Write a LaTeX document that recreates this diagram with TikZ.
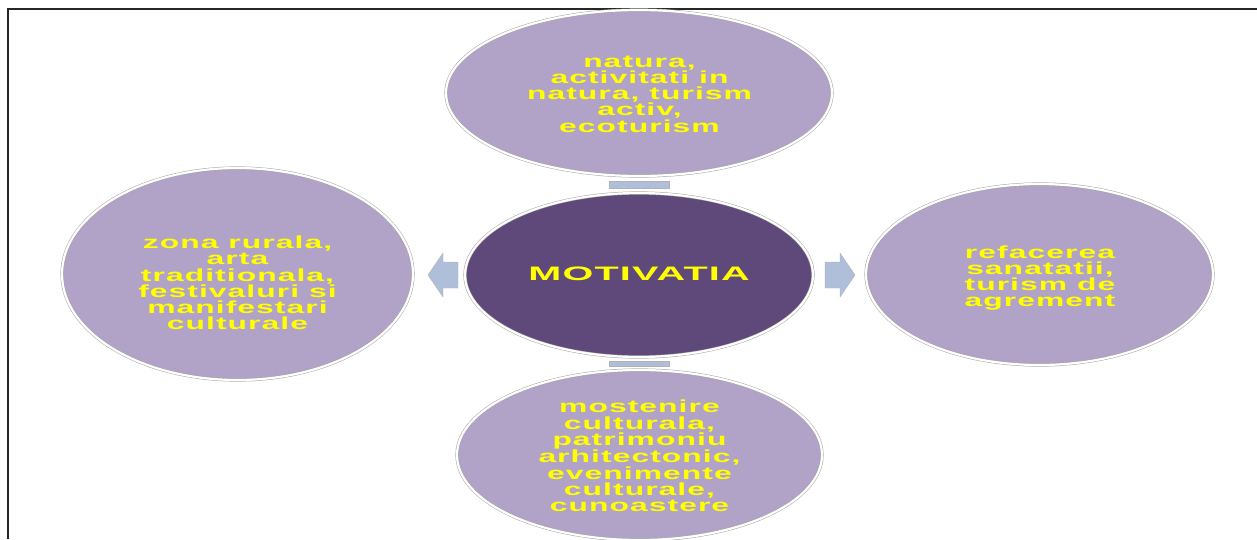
\documentclass[tikz,border=0pt]{standalone}
\usepackage{fontspec}
\newfontfamily\widefont{Liberation Sans}[FakeStretch=1.82,LetterSpace=6]
\newfontfamily\hubfont{Liberation Sans}[FakeStretch=2.03,LetterSpace=6]
\usetikzlibrary{shapes.geometric,calc}
\definecolor{lightpurple}{HTML}{B1A2C7}
\definecolor{darkpurple}{HTML}{5F497A}
\definecolor{arrowblue}{HTML}{AFBFD9}
\definecolor{txtyellow}{HTML}{FFFF00}
\tikzset{
  bubble/.style={ellipse, inner sep=0pt, fill=lightpurple, draw=gray!70, line width=0.5pt, double=white, double distance=2.2pt},
  hub/.style={bubble, fill=darkpurple},
  bubtext/.style={align=center, text=txtyellow, font=\widefont\bfseries\fontsize{17.5}{16.25}\selectfont, inner sep=0pt},
  hubtext/.style={text=txtyellow, font=\hubfont\bfseries\fontsize{19.5}{20}\selectfont, inner sep=0pt},
  blockarrow/.style={fill=arrowblue, draw=gray!60, line width=0.4pt, line join=miter},
  flatbar/.style={rectangle, fill=arrowblue, draw=gray!60, line width=0.4pt, inner sep=0pt, minimum width=60pt}
}
\begin{document}
\begin{tikzpicture}[x=1pt,y=-1pt]
\useasboundingbox (0,0) rectangle (1257,539);
\coordinate (frtr) at (1257,9);
\coordinate (frtl) at (8,9);
\coordinate (frbl) at (8,539);
\draw[line width=1.4pt, black!85] (frtr) -- (frtl) -- (frbl);

\node[hub, minimum width=348pt, minimum height=164pt] (center) at (639,275) {};
\node[bubble, minimum width=386pt, minimum height=166pt] (top) at (639,93) {};
\node[bubble, minimum width=351pt, minimum height=212pt] (left) at (237.5,274) {};
\node[bubble, minimum width=347pt, minimum height=181pt] (right) at (1039.5,274.5) {};
\node[bubble, minimum width=365pt, minimum height=170pt] (bottom) at (639.5,455) {};

\node[hubtext] (tc) at (639,274) {MOTIVATIA};
\node[bubtext] (tt) at (639.5,94) {natura,\\activitati in\\natura, turism\\activ,\\ecoturism};
\node[bubtext] (tl) at (237.5,283) {zona rurala,\\arta\\traditionala,\\festivaluri si\\manifestari\\culturale};
\node[bubtext] (tr) at (1040,278) {refacerea\\sanatatii,\\turism de\\agrement};
\node[bubtext] (tb) at (639.5,456) {mostenire\\culturala,\\patrimoniu\\arhitectonic,\\evenimente\\culturale,\\cunoastere};

% block arrows
\coordinate (al) at (443,275);
\draw[blockarrow] ($(al)+(-15,0)$) -- ($(al)+(0,-22)$) -- ($(al)+(0,-13)$) -- ($(al)+(15,-13)$)
  -- ($(al)+(15,13)$) -- ($(al)+(0,13)$) -- ($(al)+(0,22)$) -- cycle;
\coordinate (ar) at (840,275);
\draw[blockarrow] ($(ar)+(15,0)$) -- ($(ar)+(0,-22)$) -- ($(ar)+(0,-13)$) -- ($(ar)+(-15,-13)$)
  -- ($(ar)+(-15,13)$) -- ($(ar)+(0,13)$) -- ($(ar)+(0,22)$) -- cycle;
\node[flatbar, minimum height=7pt] (at) at ($(center.north)!0.5!(top.south)$) {};
\node[flatbar, minimum height=5pt] (ab) at ($(center.south)!0.5!(bottom.north)$) {};
\end{tikzpicture}
\end{document}
